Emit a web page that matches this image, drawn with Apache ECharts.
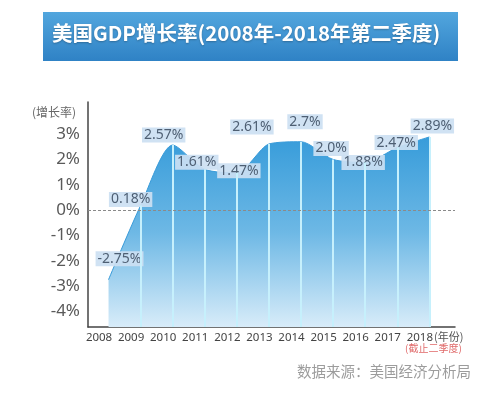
<!DOCTYPE html>
<html>
<head>
<meta charset="utf-8">
<script src="https://cdn.jsdelivr.net/npm/echarts@6/dist/echarts.min.js"></script>
<style>
html,body{margin:0;padding:0;background:#ffffff;}
#chart{width:500px;height:393px;}
</style>
</head>
<body>
<div id="chart"></div>
<script>
// ---- data ----
const years = [2008, 2009, 2010, 2011, 2012, 2013, 2014, 2015, 2016, 2017, 2018];
const growth = [-2.75, 0.18, 2.57, 1.61, 1.47, 2.61, 2.7, 2.0, 1.88, 2.47, 2.89];
const valueLabels = ['-2.75%', '0.18%', '2.57%', '1.61%', '1.47%', '2.61%', '2.7%', '2.0%', '1.88%', '2.47%', '2.89%'];
const yTicks = [-4, -3, -2, -1, 0, 1, 2, 3];
const titleText = '美国GDP增长率(2008年-2018年第二季度)';
const yName = '(增长率)';
const xName = '(年份)';
const noteText = '(截止二季度)';
const sourceText = '数据来源：美国经济分析局';

// ---- layout / style (not data) ----
const yMin = -4.62, yMax = 4.27;
const xMin = 2007.36, xMax = 2018.80;
const labelOffsets = [[11,-21],[-10,-6],[-9,-10],[-8,-7],[2,-2],[-17,-17],[4,-20],[-2,-11],[-2,0],[-1,-5],[3,-11]];

const chart = echarts.init(document.getElementById('chart'), null, {renderer: 'canvas'});

const pts = years.map((y, i) => ({
  value: [y, growth[i]],
  label: { offset: labelOffsets[i] }
}));

const vLines = years.slice(1).map((y, k) => [
  { coord: [y, yMin] },
  { coord: [y, growth[k + 1]] }
]);

const option = {
  backgroundColor: '#ffffff',
  animation: false,
  grid: { left: 88, right: 45, top: 102, bottom: 66, containLabel: false },
  xAxis: {
    type: 'value', min: xMin, max: xMax,
    axisLine: { show: true, onZero: false, lineStyle: { color: '#444', width: 1.5 } },
    axisTick: { show: false },
    splitLine: { show: false },
    axisLabel: {
      customValues: years,
      formatter: v => String(v),
      fontFamily: 'Noto Sans', fontSize: 11.5, color: '#444',
      margin: 5, padding: [0, 19, 0, 0]
    }
  },
  yAxis: {
    type: 'value', min: yMin, max: yMax,
    axisLine: { show: true, lineStyle: { color: '#444', width: 1.5 } },
    axisTick: { show: false },
    splitLine: { show: false },
    axisLabel: {
      customValues: yTicks,
      formatter: v => v + '%',
      fontFamily: 'Noto Sans', fontSize: 17, color: '#5a5a5a', margin: 8
    }
  },
  series: [{
    type: 'line',
    data: pts,
    smooth: 0.25,
    symbol: 'circle', symbolSize: 1,
    itemStyle: { color: 'rgba(0,0,0,0)' },
    lineStyle: { color: '#3a9cda', width: 1 },
    areaStyle: {
      origin: 'start',
      opacity: 1,
      color: new echarts.graphic.LinearGradient(0, 0, 0, 1, [
        { offset: 0, color: '#379cda' },
        { offset: 0.5, color: '#6db8e5' },
        { offset: 1, color: '#d8ecf9' }
      ])
    },
    label: {
      show: true, position: 'inside',
      formatter: p => valueLabels[p.dataIndex],
      fontFamily: 'Noto Sans', fontSize: 14, color: '#4e5f73',
      backgroundColor: 'rgba(204,224,242,0.92)',
      padding: [1, 2, 0, 2]
    },
    emphasis: { disabled: true },
    silent: true,
    markLine: {
      silent: true,
      symbol: ['none', 'none'],
      label: { show: false },
      animation: false,
      data: vLines.concat([{ yAxis: 0, lineStyle: { type: [3, 2], color: '#8a8a8a', width: 1 } }]),
      lineStyle: { type: 'solid', color: '#c6f0fc', width: 2 }
    },
    z: 2
  }],
  graphic: [
    {
      type: 'rect', left: 43, top: 12,
      shape: { width: 415, height: 49 },
      style: {
        fill: new echarts.graphic.LinearGradient(0, 0, 0, 1, [
          { offset: 0, color: '#52a6de' },
          { offset: 1, color: '#2f82c5' }
        ])
      }
    },
    {
      type: 'text', left: 52, top: 23,
      style: {
        text: titleText, fill: '#ffffff',
        font: 'bold 20.5px "Noto Sans CJK SC"',
        textShadowColor: 'rgba(0,0,0,0.25)', textShadowBlur: 2, textShadowOffsetY: 1
      }
    },
    {
      type: 'text', left: 32, top: 106,
      style: { text: yName, fill: '#666', font: '12px "Noto Sans CJK SC"' }
    },
    {
      type: 'text', left: 434, top: 331,
      style: { text: xName, fill: '#555', font: '11px "Noto Sans CJK SC"' }
    },
    {
      type: 'text', left: 405, top: 343,
      style: { text: noteText, fill: '#e06a6a', font: '10px "Noto Sans CJK SC"' }
    },
    {
      type: 'text', left: 297, top: 364,
      style: { text: sourceText, fill: '#9c9c9c', font: '14.5px "Noto Sans CJK SC"' }
    }
  ]
};
chart.setOption(option);
</script>
</body>
</html>
